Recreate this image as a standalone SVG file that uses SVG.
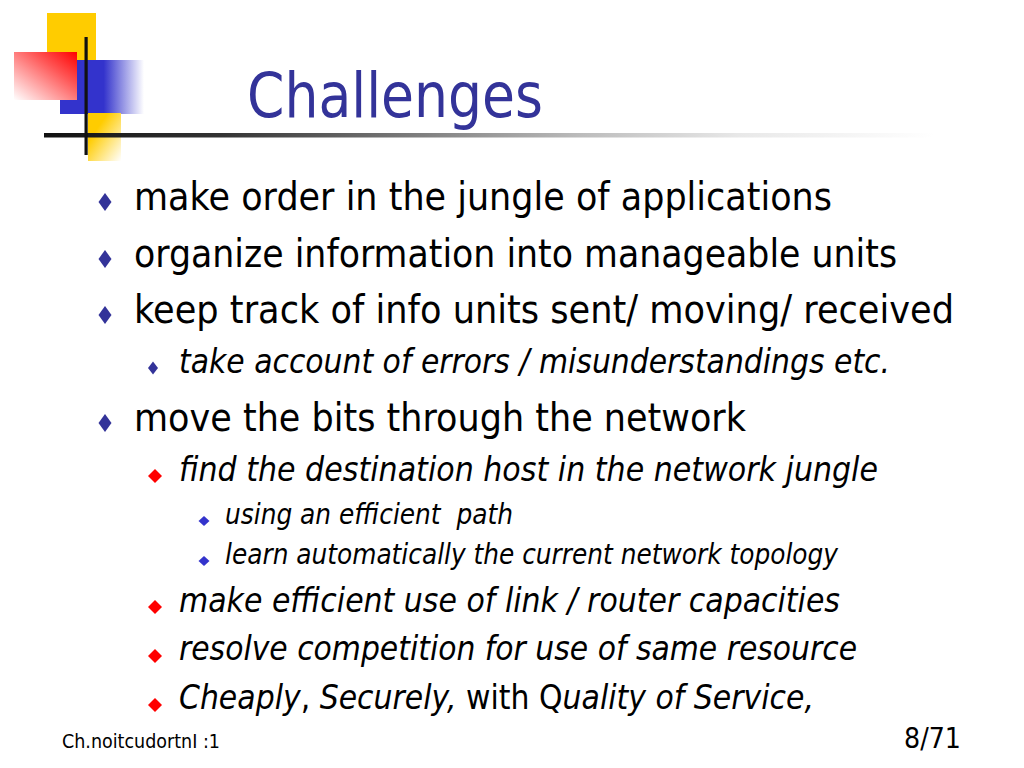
<svg xmlns="http://www.w3.org/2000/svg" width="1024" height="768" viewBox="0 0 1024 768">
  <defs>
    <style>
      .t { font-family: "DejaVu Sans", "Noto Sans", sans-serif; fill: #000; }
      .l1 { font-size: 39.8px; }
      .l2 { font-size: 34.1px; font-style: italic; }
      .l3 { font-size: 28.4px; font-style: italic; }
      .up { font-style: normal; }
      .title { font-size: 62.6px; fill: #333399; }
      .foot { font-size: 19.9px; }
      .num { font-size: 28.4px; }
    </style>
    <linearGradient id="gRed" x1="1" y1="0" x2="0" y2="1">
      <stop offset="0" stop-color="#FF0000"/>
      <stop offset="0.35" stop-color="#FF5555"/>
      <stop offset="1" stop-color="#FFFFFF"/>
    </linearGradient>
    <linearGradient id="gBlue" x1="0" y1="0" x2="1" y2="0">
      <stop offset="0" stop-color="#3333CC"/>
      <stop offset="0.52" stop-color="#3333CC"/>
      <stop offset="1" stop-color="#FFFFFF"/>
    </linearGradient>
    <linearGradient id="gYel" x1="0" y1="0" x2="1" y2="1">
      <stop offset="0" stop-color="#FFCC00"/>
      <stop offset="0.3" stop-color="#FFCC00"/>
      <stop offset="1" stop-color="#FFFFFF"/>
    </linearGradient>
    <linearGradient id="gLine" x1="0" y1="0" x2="1" y2="0">
      <stop offset="0" stop-color="#111111"/>
      <stop offset="0.2" stop-color="#333333"/>
      <stop offset="0.6" stop-color="#BBBBBB"/>
      <stop offset="0.78" stop-color="#E8E8E8"/>
      <stop offset="1" stop-color="#FFFFFF"/>
    </linearGradient>
    <path id="d1" d="M0,-9 L6.5,0 L0,9 L-6.5,0Z" fill="#333399"/>
    <path id="d2" d="M0,-6.5 L5,0 L0,6.5 L-5,0Z" fill="#333399"/>
    <path id="dr" d="M0,-7 L7,0 L0,7 L-7,0Z" fill="#FF0000"/>
    <path id="d3" d="M0,-5 L5.5,0 L0,5 L-5.5,0Z" fill="#3333CC"/>
  </defs>

  <rect x="0" y="0" width="1024" height="768" fill="#FFFFFF"/>

  <g id="logo">
    <rect x="47" y="13" width="49" height="48" fill="#FFCC00"/>
    <rect x="60" y="60" width="84" height="54" fill="url(#gBlue)"/>
    <rect x="14" y="52" width="63" height="48" fill="url(#gRed)"/>
    <rect x="88" y="113" width="33" height="48" fill="url(#gYel)"/>
    <rect x="44" y="133" width="890" height="4.5" fill="url(#gLine)"/>
    <rect x="84.5" y="37" width="3.2" height="118" fill="#111111"/>
  </g>

  <g id="title">
    <text class="t title" x="247" y="117" textLength="296" lengthAdjust="spacingAndGlyphs">Challenges</text>
  </g>

  <g id="item1">
    <use href="#d1" x="105" y="202"/>
    <text class="t l1" x="134" y="210" textLength="698" lengthAdjust="spacingAndGlyphs">make order in the jungle of applications</text>
  </g>
  <g id="item2">
    <use href="#d1" x="105" y="259"/>
    <text class="t l1" x="134" y="267" textLength="763" lengthAdjust="spacingAndGlyphs">organize information into manageable units</text>
  </g>
  <g id="item3">
    <use href="#d1" x="105" y="315"/>
    <text class="t l1" x="134" y="323" textLength="820" lengthAdjust="spacingAndGlyphs">keep track of info units sent/ moving/ received</text>
  </g>
  <g id="item3a">
    <use href="#d2" x="153" y="368"/>
    <text class="t l2" x="179" y="373" textLength="711" lengthAdjust="spacingAndGlyphs">take account of errors / misunderstandings etc.</text>
  </g>
  <g id="item4">
    <use href="#d1" x="105" y="423"/>
    <text class="t l1" x="134" y="431" textLength="612" lengthAdjust="spacingAndGlyphs">move the bits through the network</text>
  </g>
  <g id="item4a">
    <use href="#dr" x="155" y="476"/>
    <text class="t l2" x="179" y="481" textLength="699" lengthAdjust="spacingAndGlyphs">find the destination host in the network jungle</text>
  </g>
  <g id="item4a1">
    <use href="#d3" x="204" y="521"/>
    <text class="t l3" x="225" y="524" textLength="288" lengthAdjust="spacingAndGlyphs">using an efficient&#160; path</text>
  </g>
  <g id="item4a2">
    <use href="#d3" x="204" y="561"/>
    <text class="t l3" x="225" y="564" textLength="613" lengthAdjust="spacingAndGlyphs">learn automatically the current network topology</text>
  </g>
  <g id="item4b">
    <use href="#dr" x="155" y="607"/>
    <text class="t l2" x="179" y="612" textLength="661" lengthAdjust="spacingAndGlyphs">make efficient use of link / router capacities</text>
  </g>
  <g id="item4c">
    <use href="#dr" x="155" y="656"/>
    <text class="t l2" x="179" y="660" textLength="678" lengthAdjust="spacingAndGlyphs">resolve competition for use of same resource</text>
  </g>
  <g id="item4d">
    <use href="#dr" x="155" y="705"/>
    <text class="t l2" x="179" y="709" textLength="635" lengthAdjust="spacingAndGlyphs">Cheaply<tspan class="up">, </tspan>Securely,<tspan class="up"> with Q</tspan>uality of Service,</text>
  </g>

  <g id="footer">
    <text class="t foot" x="62" y="748" textLength="158" lengthAdjust="spacingAndGlyphs">Ch.noitcudortnI :1</text>
    <text class="t num" x="904" y="748" textLength="57" lengthAdjust="spacingAndGlyphs">8/71</text>
  </g>
</svg>
